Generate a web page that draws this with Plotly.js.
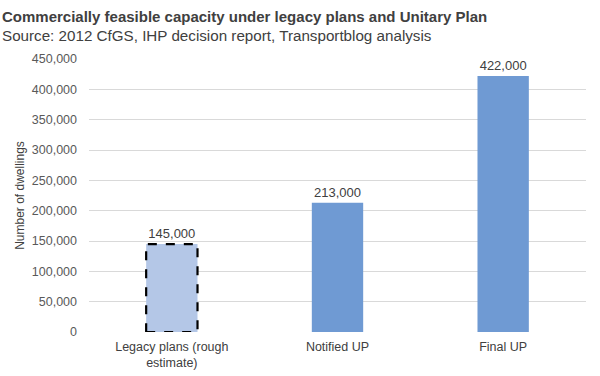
<!DOCTYPE html>
<html><head><meta charset="utf-8">
<script src="https://cdn.plot.ly/plotly-3.0.1.min.js"></script>
<style>html,body{margin:0;padding:0;background:#fff}#chart{width:600px;height:376px}</style>
</head><body><div id="chart"></div>
<script>
const categories = ["Legacy plans (rough<br>estimate)", "Notified UP", "Final UP"];
const values = [145000, 213000, 422000];
const labels = ["145,000", "213,000", "422,000"];
const barColors = ["#b4c7e7", "#6f9ad3", "#6f9ad3"];
const yTicks = [0, 50000, 100000, 150000, 200000, 250000, 300000, 350000, 400000, 450000];
const yTickText = ["0", "50,000", "100,000", "150,000", "200,000", "250,000", "300,000", "350,000", "400,000", "450,000"];
const barWidth = 0.31;

const trace = {
  type: "bar", x: categories, y: values, width: barWidth,
  marker: {color: barColors, line: {width: 0}},
  text: labels, textposition: "outside", cliponaxis: false,
  textfont: {family: "Liberation Sans, Arial, sans-serif", size: 13, color: "#404040"},
  hoverinfo: "skip"
};
const layout = {
  width: 600, height: 376,
  margin: {l: 89, r: 14, t: 59, b: 44},
  paper_bgcolor: "#fff", plot_bgcolor: "#fff",
  showlegend: false,
  font: {family: "Liberation Sans, Arial, sans-serif", color: "#595959", size: 12},
  xaxis: {type: "category", showgrid: false, zeroline: false, showline: false, ticks: "",
    ticklabelstandoff: 5, tickfont: {size: 12.5, color: "#404040"}},
  yaxis: {range: [0, 450000], tickvals: yTicks, ticktext: yTickText, showgrid: true, gridcolor: "#d9d9d9",
    gridwidth: 1, zeroline: false, showline: false, ticks: "", ticklabelstandoff: 11,
    tickfont: {size: 12.5, color: "#595959"},
    title: {text: "Number of dwellings", font: {size: 12, color: "#404040"}, standoff: 4}},
  shapes: [{type: "rect", xref: "x", yref: "y", x0: 0 - barWidth/2, x1: 0 + barWidth/2, y0: 0, y1: values[0],
    line: {color: "#000", width: 2.2, dash: "dash"}, fillcolor: "rgba(0,0,0,0)"}],
  annotations: [
    {xref: "paper", yref: "paper", x: -89/497, y: 1, yshift: 59 - 6, xanchor: "left", yanchor: "top", showarrow: false,
     text: "<b>Commercially feasible capacity under legacy plans and Unitary Plan</b>",
     font: {size: 15, color: "#404040"}},
    {xref: "paper", yref: "paper", x: -89/497, y: 1, yshift: 59 - 25, xanchor: "left", yanchor: "top", showarrow: false,
     text: "Source: 2012 CfGS, IHP decision report, Transportblog analysis",
     font: {size: 15.2, color: "#404040"}}
  ]
};
Plotly.newPlot("chart", [trace], layout, {staticPlot: true, displayModeBar: false});
</script></body></html>
